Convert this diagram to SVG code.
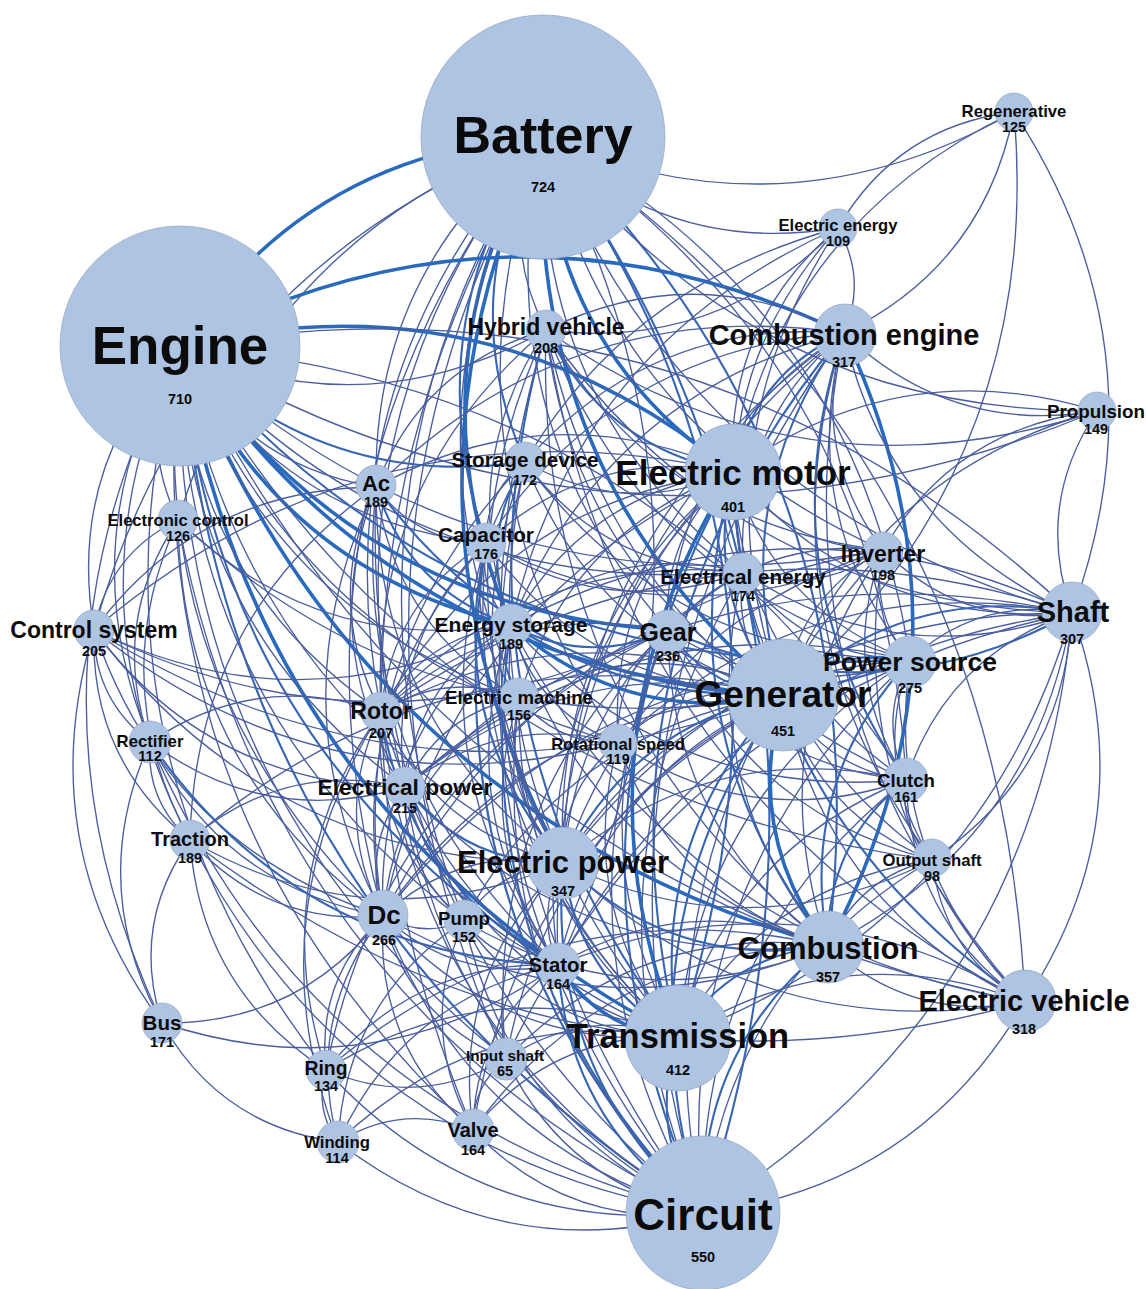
<svg xmlns="http://www.w3.org/2000/svg" xmlns:xlink="http://www.w3.org/1999/xlink" width="1146" height="1289" viewBox="0 0 1146 1289">
<style>
  .edges use { fill: none; stroke-linecap: round; }
  .t { stroke: #4a5e9e; stroke-width: 1.35; }
  .m { stroke: #3866b2; stroke-width: 2.1; }
  .k { stroke: #2a6abc; stroke-width: 3.6; }
  .node circle { fill: #aec4e3; stroke: #93a4c2; stroke-width: 0.7; }
  .node text { font-family: "Liberation Sans", Arial, sans-serif; font-weight: bold; text-anchor: middle; fill: #0b0b0b; }
  .node text.v { font-size: 14.5px; }
</style>
<defs>
  <!-- unit arc from (0,0) to (1,0); each edge maps it with matrix(dx dy -dy dx x1 y1) -->
  <path id="c" d="M0,0 Q0.5,0.25 1,0" vector-effect="non-scaling-stroke"/>
</defs>
<rect width="1146" height="1289" fill="#ffffff"/>
<g class="edges">
<!-- Battery -->
<use href="#c" class="k" transform="matrix(-363 210 -210 -363 543 137)"/>
<use href="#c" class="t" transform="matrix(471 -25 25 471 543 137)"/>
<use href="#c" class="t" transform="matrix(295 91 -91 295 543 137)"/>
<use href="#c" class="k" transform="matrix(190 335 -335 190 543 137)"/>
<use href="#c" class="k" transform="matrix(240 558 -558 240 543 137)"/>
<use href="#c" class="m" transform="matrix(-160 -1076 1076 -160 703 1213)"/>
<use href="#c" class="m" transform="matrix(-135 -900 900 -135 678 1037)"/>
<use href="#c" class="m" transform="matrix(-285 -809 809 -285 828 946)"/>
<use href="#c" class="k" transform="matrix(20 726 -726 20 543 137)"/>
<use href="#c" class="k" transform="matrix(-32 488 -488 -32 543 137)"/>
<use href="#c" class="m" transform="matrix(-57 406 -406 -57 543 137)"/>
<use href="#c" class="m" transform="matrix(-18 325 -325 -18 543 137)"/>
<use href="#c" class="t" transform="matrix(3 193 -193 3 543 137)"/>
<use href="#c" class="t" transform="matrix(200 435 -435 200 543 137)"/>
<use href="#c" class="t" transform="matrix(340 413 -413 340 543 137)"/>
<use href="#c" class="t" transform="matrix(-367 -523 523 -367 910 660)"/>
<use href="#c" class="t" transform="matrix(-167 350 -350 -167 543 137)"/>
<use href="#c" class="t" transform="matrix(-160 779 -779 -160 543 137)"/>
<use href="#c" class="t" transform="matrix(-138 650 -650 -138 543 137)"/>
<use href="#c" class="t" transform="matrix(-15 -828 828 -15 558 965)"/>
<use href="#c" class="t" transform="matrix(125 493 -493 125 543 137)"/>
<use href="#c" class="t" transform="matrix(-24 561 -561 -24 543 137)"/>
<use href="#c" class="t" transform="matrix(-162 575 -575 -162 543 137)"/>
<use href="#c" class="t" transform="matrix(529 476 -476 529 543 137)"/>
<use href="#c" class="t" transform="matrix(-482 -865 865 -482 1025 1002)"/>
<use href="#c" class="t" transform="matrix(-363 -643 643 -363 906 780)"/>
<use href="#c" class="t" transform="matrix(554 274 -274 554 543 137)"/>
<use href="#c" class="t" transform="matrix(-449 493 -493 -449 543 137)"/>
<use href="#c" class="t" transform="matrix(-365 383 -383 -365 543 137)"/>
<use href="#c" class="t" transform="matrix(75 606 -606 75 543 137)"/>
<use href="#c" class="t" transform="matrix(-79 784 -784 -79 543 137)"/>
<use href="#c" class="t" transform="matrix(-70 993 -993 -70 543 137)"/>
<use href="#c" class="t" transform="matrix(-37 922 -922 -37 543 137)"/>
<!-- Engine -->
<use href="#c" class="k" transform="matrix(-553 -125 125 -553 733 472)"/>
<use href="#c" class="k" transform="matrix(603 348 -348 603 180 347)"/>
<use href="#c" class="k" transform="matrix(331 278 -278 331 180 347)"/>
<use href="#c" class="k" transform="matrix(498 690 -690 498 180 347)"/>
<use href="#c" class="m" transform="matrix(378 618 -618 378 180 347)"/>
<use href="#c" class="m" transform="matrix(523 866 -866 523 180 347)"/>
<use href="#c" class="k" transform="matrix(648 599 -599 648 180 347)"/>
<use href="#c" class="k" transform="matrix(488 283 -283 488 180 347)"/>
<use href="#c" class="t" transform="matrix(366 -17 17 366 180 347)"/>
<use href="#c" class="m" transform="matrix(345 115 -115 345 180 347)"/>
<use href="#c" class="t" transform="matrix(196 140 -140 196 180 347)"/>
<use href="#c" class="t" transform="matrix(-2 173 -173 -2 180 347)"/>
<use href="#c" class="t" transform="matrix(-86 283 -283 -86 180 347)"/>
<use href="#c" class="t" transform="matrix(-30 395 -395 -30 180 347)"/>
<use href="#c" class="t" transform="matrix(10 493 -493 10 180 347)"/>
<use href="#c" class="t" transform="matrix(306 196 -196 306 180 347)"/>
<use href="#c" class="t" transform="matrix(563 225 -225 563 180 347)"/>
<use href="#c" class="t" transform="matrix(703 203 -203 703 180 347)"/>
<use href="#c" class="m" transform="matrix(730 313 -313 730 180 347)"/>
<use href="#c" class="t" transform="matrix(-892 -266 266 -892 1072 613)"/>
<use href="#c" class="t" transform="matrix(-726 -433 433 -726 906 780)"/>
<use href="#c" class="t" transform="matrix(201 365 -365 201 180 347)"/>
<use href="#c" class="t" transform="matrix(225 440 -440 225 180 347)"/>
<use href="#c" class="t" transform="matrix(383 516 -516 383 180 347)"/>
<use href="#c" class="t" transform="matrix(203 569 -569 203 180 347)"/>
<use href="#c" class="t" transform="matrix(284 574 -574 284 180 347)"/>
<use href="#c" class="t" transform="matrix(339 351 -351 339 180 347)"/>
<use href="#c" class="t" transform="matrix(438 396 -396 438 180 347)"/>
<use href="#c" class="t" transform="matrix(293 783 -783 293 180 347)"/>
<use href="#c" class="t" transform="matrix(146 723 -723 146 180 347)"/>
<use href="#c" class="t" transform="matrix(845 655 -655 845 180 347)"/>
<use href="#c" class="t" transform="matrix(752 513 -513 752 180 347)"/>
<use href="#c" class="t" transform="matrix(-18 676 -676 -18 180 347)"/>
<use href="#c" class="t" transform="matrix(326 712 -712 326 180 347)"/>
<use href="#c" class="t" transform="matrix(917 64 -64 917 180 347)"/>
<!-- Combustion engine -->
<use href="#c" class="k" transform="matrix(16 -613 613 16 828 946)"/>
<use href="#c" class="k" transform="matrix(-664 14 -14 -664 844 333)"/>
<use href="#c" class="m" transform="matrix(-111 139 -139 -111 844 333)"/>
<use href="#c" class="m" transform="matrix(-61 362 -362 -61 844 333)"/>
<use href="#c" class="m" transform="matrix(-166 704 -704 -166 844 333)"/>
<use href="#c" class="t" transform="matrix(253 78 -78 253 844 333)"/>
<use href="#c" class="t" transform="matrix(170 -221 221 170 844 333)"/>
<use href="#c" class="t" transform="matrix(-6 -105 105 -6 844 333)"/>
<use href="#c" class="t" transform="matrix(228 280 -280 228 844 333)"/>
<use href="#c" class="t" transform="matrix(66 327 -327 66 844 333)"/>
<use href="#c" class="m" transform="matrix(62 447 -447 62 844 333)"/>
<use href="#c" class="t" transform="matrix(-101 239 -239 -101 844 333)"/>
<use href="#c" class="t" transform="matrix(-176 297 -297 -176 844 333)"/>
<use href="#c" class="t" transform="matrix(-333 292 -292 -333 844 333)"/>
<use href="#c" class="t" transform="matrix(-141 880 -880 -141 844 333)"/>
<use href="#c" class="t" transform="matrix(181 669 -669 181 844 333)"/>
<use href="#c" class="t" transform="matrix(88 527 -527 88 844 333)"/>
<use href="#c" class="t" transform="matrix(-298 -3 3 -298 844 333)"/>
<use href="#c" class="t" transform="matrix(39 217 -217 39 844 333)"/>
<use href="#c" class="t" transform="matrix(-281 530 -530 -281 844 333)"/>
<use href="#c" class="t" transform="matrix(-286 632 -632 -286 844 333)"/>
<use href="#c" class="t" transform="matrix(-468 154 -154 -468 844 333)"/>
<use href="#c" class="t" transform="matrix(-358 210 -210 -358 844 333)"/>
<use href="#c" class="t" transform="matrix(-319 129 -129 -319 844 333)"/>
<!-- Regenerative, Electric energy -->
<use href="#c" class="t" transform="matrix(-176 116 -116 -176 1014 112)"/>
<use href="#c" class="t" transform="matrix(-58 -501 501 -58 1072 613)"/>
<use href="#c" class="t" transform="matrix(-281 360 -360 -281 1014 112)"/>
<use href="#c" class="t" transform="matrix(231 -583 583 231 783 695)"/>
<use href="#c" class="t" transform="matrix(-105 244 -244 -105 838 228)"/>
<use href="#c" class="t" transform="matrix(-95 344 -344 -95 838 228)"/>
<use href="#c" class="t" transform="matrix(-55 467 -467 -55 838 228)"/>
<use href="#c" class="t" transform="matrix(-352 315 -315 -352 838 228)"/>
<use href="#c" class="t" transform="matrix(-327 397 -397 -327 838 228)"/>
<use href="#c" class="t" transform="matrix(292 -102 102 292 546 330)"/>
<!-- Hybrid vehicle -->
<use href="#c" class="m" transform="matrix(187 142 -142 187 546 330)"/>
<use href="#c" class="t" transform="matrix(237 365 -365 237 546 330)"/>
<use href="#c" class="m" transform="matrix(132 707 -707 132 546 330)"/>
<use href="#c" class="t" transform="matrix(157 883 -883 157 546 330)"/>
<use href="#c" class="t" transform="matrix(479 672 -672 479 546 330)"/>
<use href="#c" class="t" transform="matrix(282 616 -616 282 546 330)"/>
<use href="#c" class="t" transform="matrix(-35 295 -295 -35 546 330)"/>
<use href="#c" class="t" transform="matrix(17 533 -533 17 546 330)"/>
<use href="#c" class="t" transform="matrix(-170 157 -157 -170 546 330)"/>
<use href="#c" class="t" transform="matrix(526 283 -283 526 546 330)"/>
<use href="#c" class="t" transform="matrix(364 330 -330 364 546 330)"/>
<use href="#c" class="t" transform="matrix(360 450 -450 360 546 330)"/>
<use href="#c" class="t" transform="matrix(337 220 -220 337 546 330)"/>
<use href="#c" class="t" transform="matrix(-165 382 -382 -165 546 330)"/>
<use href="#c" class="t" transform="matrix(551 81 -81 551 546 330)"/>
<!-- Propulsion -->
<use href="#c" class="t" transform="matrix(-25 202 -202 -25 1097 411)"/>
<use href="#c" class="t" transform="matrix(-364 61 -61 -364 1097 411)"/>
<use href="#c" class="t" transform="matrix(-314 284 -284 -314 1097 411)"/>
<use href="#c" class="t" transform="matrix(-214 139 -139 -214 1097 411)"/>
<!-- Storage device -->
<use href="#c" class="t" transform="matrix(208 10 -10 208 525 462)"/>
<use href="#c" class="m" transform="matrix(-14 163 -163 -14 525 462)"/>
<use href="#c" class="t" transform="matrix(-39 81 -81 -39 525 462)"/>
<use href="#c" class="t" transform="matrix(258 233 -233 258 525 462)"/>
<use href="#c" class="t" transform="matrix(178 751 -751 178 525 462)"/>
<use href="#c" class="t" transform="matrix(38 401 -401 38 525 462)"/>
<use href="#c" class="t" transform="matrix(218 110 -110 218 525 462)"/>
<use href="#c" class="t" transform="matrix(-142 454 -454 -142 525 462)"/>
<use href="#c" class="t" transform="matrix(153 575 -575 153 525 462)"/>
<use href="#c" class="t" transform="matrix(385 198 -198 385 525 462)"/>
<!-- Electric motor -->
<use href="#c" class="m" transform="matrix(50 223 -223 50 733 472)"/>
<use href="#c" class="k" transform="matrix(-55 565 -565 -55 733 472)"/>
<use href="#c" class="m" transform="matrix(95 474 -474 95 733 472)"/>
<use href="#c" class="m" transform="matrix(-30 741 -741 -30 733 472)"/>
<use href="#c" class="t" transform="matrix(339 141 -141 339 733 472)"/>
<use href="#c" class="t" transform="matrix(150 78 -78 150 733 472)"/>
<use href="#c" class="t" transform="matrix(10 100 -100 10 733 472)"/>
<use href="#c" class="t" transform="matrix(-65 158 -158 -65 733 472)"/>
<use href="#c" class="t" transform="matrix(177 188 -188 177 733 472)"/>
<use href="#c" class="t" transform="matrix(173 308 -308 173 733 472)"/>
<use href="#c" class="m" transform="matrix(292 530 -530 292 733 472)"/>
<use href="#c" class="t" transform="matrix(-170 391 -391 -170 733 472)"/>
<use href="#c" class="t" transform="matrix(-222 153 -153 -222 733 472)"/>
<use href="#c" class="t" transform="matrix(-247 71 -71 -247 733 472)"/>
<use href="#c" class="t" transform="matrix(-357 15 -15 -357 733 472)"/>
<use href="#c" class="t" transform="matrix(-352 240 -240 -352 733 472)"/>
<use href="#c" class="t" transform="matrix(-175 493 -493 -175 733 472)"/>
<use href="#c" class="t" transform="matrix(-115 271 -271 -115 733 472)"/>
<use href="#c" class="t" transform="matrix(-350 444 -444 -350 733 472)"/>
<use href="#c" class="t" transform="matrix(199 388 -388 199 733 472)"/>
<use href="#c" class="t" transform="matrix(-214 226 -226 -214 733 472)"/>
<use href="#c" class="t" transform="matrix(-639 158 -158 -639 733 472)"/>
<!-- Ac -->
<use href="#c" class="t" transform="matrix(5 225 -225 5 376 487)"/>
<use href="#c" class="t" transform="matrix(7 429 -429 7 376 487)"/>
<use href="#c" class="t" transform="matrix(29 300 -300 29 376 487)"/>
<use href="#c" class="m" transform="matrix(135 138 -138 135 376 487)"/>
<use href="#c" class="t" transform="matrix(110 56 -56 110 376 487)"/>
<use href="#c" class="m" transform="matrix(407 208 -208 407 376 487)"/>
<use href="#c" class="t" transform="matrix(182 478 -478 182 376 487)"/>
<use href="#c" class="t" transform="matrix(327 726 -726 327 376 487)"/>
<use href="#c" class="t" transform="matrix(187 376 -376 187 376 487)"/>
<use href="#c" class="t" transform="matrix(-186 353 -353 -186 376 487)"/>
<use href="#c" class="t" transform="matrix(143 211 -211 143 376 487)"/>
<use href="#c" class="t" transform="matrix(-282 143 -143 -282 376 487)"/>
<!-- Electronic control -->
<use href="#c" class="t" transform="matrix(-84 110 -110 -84 178 520)"/>
<use href="#c" class="t" transform="matrix(-28 222 -222 -28 178 520)"/>
<use href="#c" class="t" transform="matrix(12 320 -320 12 178 520)"/>
<use href="#c" class="t" transform="matrix(333 105 -105 333 178 520)"/>
<use href="#c" class="t" transform="matrix(605 175 -175 605 178 520)"/>
<use href="#c" class="t" transform="matrix(525 693 -693 525 178 520)"/>
<use href="#c" class="t" transform="matrix(205 396 -396 205 178 520)"/>
<!-- Capacitor -->
<use href="#c" class="t" transform="matrix(25 82 -82 25 486 543)"/>
<use href="#c" class="m" transform="matrix(77 320 -320 77 486 543)"/>
<use href="#c" class="m" transform="matrix(217 670 -670 217 486 543)"/>
<use href="#c" class="t" transform="matrix(297 152 -152 297 486 543)"/>
<use href="#c" class="t" transform="matrix(-103 373 -373 -103 486 543)"/>
<use href="#c" class="t" transform="matrix(257 29 -29 257 486 543)"/>
<use href="#c" class="t" transform="matrix(-81 244 -244 -81 486 543)"/>
<use href="#c" class="t" transform="matrix(192 494 -494 192 486 543)"/>
<use href="#c" class="t" transform="matrix(397 7 -7 397 486 543)"/>
<use href="#c" class="t" transform="matrix(72 422 -422 72 486 543)"/>
<use href="#c" class="t" transform="matrix(33 155 -155 33 486 543)"/>
<use href="#c" class="t" transform="matrix(-105 169 -169 -105 486 543)"/>
<!-- Electrical energy -->
<use href="#c" class="t" transform="matrix(40 123 -123 40 743 572)"/>
<use href="#c" class="t" transform="matrix(-232 53 -53 -232 743 572)"/>
<use href="#c" class="t" transform="matrix(140 -22 22 140 743 572)"/>
<use href="#c" class="t" transform="matrix(167 88 -88 167 743 572)"/>
<use href="#c" class="t" transform="matrix(-180 291 -291 -180 743 572)"/>
<use href="#c" class="t" transform="matrix(-40 641 -641 -40 743 572)"/>
<use href="#c" class="t" transform="matrix(85 374 -374 85 743 572)"/>
<use href="#c" class="t" transform="matrix(329 41 -41 329 743 572)"/>
<use href="#c" class="t" transform="matrix(-362 140 -140 -362 743 572)"/>
<!-- Inverter -->
<use href="#c" class="t" transform="matrix(-100 145 -145 -100 883 550)"/>
<use href="#c" class="t" transform="matrix(27 110 -110 27 883 550)"/>
<use href="#c" class="t" transform="matrix(189 63 -63 189 883 550)"/>
<use href="#c" class="t" transform="matrix(23 230 -230 23 883 550)"/>
<use href="#c" class="t" transform="matrix(-55 396 -396 -55 883 550)"/>
<use href="#c" class="t" transform="matrix(-320 313 -313 -320 883 550)"/>
<use href="#c" class="t" transform="matrix(-500 366 -366 -500 883 550)"/>
<use href="#c" class="t" transform="matrix(-180 663 -663 -180 883 550)"/>
<use href="#c" class="t" transform="matrix(142 452 -452 142 883 550)"/>
<use href="#c" class="t" transform="matrix(-215 80 -80 -215 883 550)"/>
<!-- Control system -->
<use href="#c" class="t" transform="matrix(56 112 -112 56 94 630)"/>
<use href="#c" class="t" transform="matrix(96 210 -210 96 94 630)"/>
<use href="#c" class="t" transform="matrix(68 393 -393 68 94 630)"/>
<use href="#c" class="t" transform="matrix(417 -5 5 417 94 630)"/>
<use href="#c" class="t" transform="matrix(689 65 -65 689 94 630)"/>
<use href="#c" class="t" transform="matrix(311 157 -157 311 94 630)"/>
<use href="#c" class="t" transform="matrix(469 233 -233 469 94 630)"/>
<use href="#c" class="t" transform="matrix(289 286 -286 289 94 630)"/>
<use href="#c" class="t" transform="matrix(574 0 0 574 94 630)"/>
<use href="#c" class="t" transform="matrix(524 113 -113 524 94 630)"/>
<!-- Energy storage -->
<use href="#c" class="k" transform="matrix(272 70 -70 272 511 625)"/>
<use href="#c" class="m" transform="matrix(157 5 -5 157 511 625)"/>
<use href="#c" class="t" transform="matrix(8 73 -73 8 511 625)"/>
<use href="#c" class="t" transform="matrix(52 238 -238 52 511 625)"/>
<use href="#c" class="m" transform="matrix(192 588 -588 192 511 625)"/>
<use href="#c" class="t" transform="matrix(167 412 -412 167 511 625)"/>
<use href="#c" class="t" transform="matrix(47 340 -340 47 511 625)"/>
<use href="#c" class="t" transform="matrix(-130 87 -87 -130 511 625)"/>
<use href="#c" class="m" transform="matrix(399 35 -35 399 511 625)"/>
<use href="#c" class="t" transform="matrix(-561 12 -12 -561 1072 613)"/>
<use href="#c" class="t" transform="matrix(317 321 -321 317 511 625)"/>
<use href="#c" class="t" transform="matrix(-128 291 -291 -128 511 625)"/>
<use href="#c" class="t" transform="matrix(-106 162 -162 -106 511 625)"/>
<use href="#c" class="t" transform="matrix(107 118 -118 107 511 625)"/>
<use href="#c" class="t" transform="matrix(395 155 -155 395 511 625)"/>
<use href="#c" class="t" transform="matrix(514 377 -377 514 511 625)"/>
<!-- Gear -->
<use href="#c" class="m" transform="matrix(115 65 -65 115 668 630)"/>
<use href="#c" class="m" transform="matrix(404 -17 17 404 668 630)"/>
<use href="#c" class="t" transform="matrix(10 407 -407 10 668 630)"/>
<use href="#c" class="t" transform="matrix(160 316 -316 160 668 630)"/>
<use href="#c" class="t" transform="matrix(238 150 -150 238 668 630)"/>
<use href="#c" class="t" transform="matrix(242 30 -30 242 668 630)"/>
<use href="#c" class="t" transform="matrix(264 230 -230 264 668 630)"/>
<use href="#c" class="t" transform="matrix(-50 113 -113 -50 668 630)"/>
<use href="#c" class="t" transform="matrix(-287 82 -82 -287 668 630)"/>
<use href="#c" class="t" transform="matrix(-162 429 -429 -162 668 630)"/>
<use href="#c" class="t" transform="matrix(-342 440 -440 -342 668 630)"/>
<use href="#c" class="t" transform="matrix(35 583 -583 35 668 630)"/>
<!-- Shaft -->
<use href="#c" class="m" transform="matrix(-289 82 -82 -289 1072 613)"/>
<use href="#c" class="t" transform="matrix(-162 47 -47 -162 1072 613)"/>
<use href="#c" class="t" transform="matrix(-166 167 -167 -166 1072 613)"/>
<use href="#c" class="t" transform="matrix(140 -247 247 140 932 860)"/>
<use href="#c" class="t" transform="matrix(244 -333 333 244 828 946)"/>
<use href="#c" class="t" transform="matrix(394 -424 424 394 678 1037)"/>
<use href="#c" class="t" transform="matrix(47 -389 389 47 1025 1002)"/>
<use href="#c" class="t" transform="matrix(369 -600 600 369 703 1213)"/>
<use href="#c" class="t" transform="matrix(-509 250 -250 -509 1072 613)"/>
<use href="#c" class="t" transform="matrix(-454 130 -130 -454 1072 613)"/>
<use href="#c" class="t" transform="matrix(-514 352 -352 -514 1072 613)"/>
<use href="#c" class="t" transform="matrix(-566 446 -446 -566 1072 613)"/>
<use href="#c" class="t" transform="matrix(-691 99 -99 -691 1072 613)"/>
<use href="#c" class="t" transform="matrix(-667 174 -174 -667 1072 613)"/>
<!-- Power source -->
<use href="#c" class="m" transform="matrix(-127 35 -35 -127 910 660)"/>
<use href="#c" class="t" transform="matrix(-4 120 -120 -4 910 660)"/>
<use href="#c" class="m" transform="matrix(-82 286 -286 -82 910 660)"/>
<use href="#c" class="t" transform="matrix(-232 377 -377 -232 910 660)"/>
<use href="#c" class="t" transform="matrix(115 342 -342 115 910 660)"/>
<use href="#c" class="t" transform="matrix(-207 553 -553 -207 910 660)"/>
<use href="#c" class="t" transform="matrix(-347 203 -203 -347 910 660)"/>
<use href="#c" class="t" transform="matrix(22 200 -200 22 910 660)"/>
<use href="#c" class="t" transform="matrix(-505 127 -127 -505 910 660)"/>
<use href="#c" class="t" transform="matrix(-527 256 -256 -527 910 660)"/>
<!-- Generator -->
<use href="#c" class="m" transform="matrix(-105 342 -342 -105 783 695)"/>
<use href="#c" class="k" transform="matrix(45 251 -251 45 783 695)"/>
<use href="#c" class="m" transform="matrix(-80 518 -518 -80 783 695)"/>
<use href="#c" class="m" transform="matrix(-220 168 -168 -220 783 695)"/>
<use href="#c" class="t" transform="matrix(123 85 -85 123 783 695)"/>
<use href="#c" class="t" transform="matrix(242 307 -307 242 783 695)"/>
<use href="#c" class="t" transform="matrix(149 165 -165 149 783 695)"/>
<use href="#c" class="t" transform="matrix(-225 270 -270 -225 783 695)"/>
<use href="#c" class="t" transform="matrix(-400 221 -221 -400 783 695)"/>
<use href="#c" class="t" transform="matrix(-402 17 -17 -402 783 695)"/>
<use href="#c" class="t" transform="matrix(-264 3 -3 -264 783 695)"/>
<use href="#c" class="t" transform="matrix(-165 48 -48 -165 783 695)"/>
<use href="#c" class="t" transform="matrix(-378 92 -92 -378 783 695)"/>
<use href="#c" class="t" transform="matrix(-319 226 -226 -319 783 695)"/>
<use href="#c" class="t" transform="matrix(-277 364 -364 -277 783 695)"/>
<use href="#c" class="t" transform="matrix(-310 435 -435 -310 783 695)"/>
<use href="#c" class="t" transform="matrix(-593 145 -145 -593 783 695)"/>
<!-- Electric machine -->
<use href="#c" class="t" transform="matrix(-138 14 -14 -138 519 698)"/>
<use href="#c" class="t" transform="matrix(39 267 -267 39 519 698)"/>
<use href="#c" class="t" transform="matrix(44 165 -165 44 519 698)"/>
<use href="#c" class="t" transform="matrix(99 45 -45 99 519 698)"/>
<use href="#c" class="t" transform="matrix(159 339 -339 159 519 698)"/>
<use href="#c" class="t" transform="matrix(184 515 -515 184 519 698)"/>
<use href="#c" class="t" transform="matrix(-136 218 -218 -136 519 698)"/>
<use href="#c" class="t" transform="matrix(-114 89 -89 -114 519 698)"/>
<!-- Rotor -->
<use href="#c" class="m" transform="matrix(177 253 -253 177 381 712)"/>
<use href="#c" class="t" transform="matrix(24 75 -75 24 381 712)"/>
<use href="#c" class="t" transform="matrix(2 204 -204 2 381 712)"/>
<use href="#c" class="t" transform="matrix(182 151 -151 182 381 712)"/>
<use href="#c" class="t" transform="matrix(297 325 -325 297 381 712)"/>
<use href="#c" class="t" transform="matrix(322 501 -501 322 381 712)"/>
<use href="#c" class="t" transform="matrix(-55 358 -358 -55 381 712)"/>
<use href="#c" class="t" transform="matrix(-43 430 -430 -43 381 712)"/>
<use href="#c" class="t" transform="matrix(83 209 -209 83 381 712)"/>
<use href="#c" class="t" transform="matrix(-231 30 -30 -231 381 712)"/>
<!-- Rectifier -->
<use href="#c" class="t" transform="matrix(40 98 -98 40 150 742)"/>
<use href="#c" class="t" transform="matrix(233 174 -174 233 150 742)"/>
<use href="#c" class="t" transform="matrix(255 45 -45 255 150 742)"/>
<use href="#c" class="t" transform="matrix(12 281 -281 12 150 742)"/>
<use href="#c" class="t" transform="matrix(553 471 -471 553 150 742)"/>
<use href="#c" class="m" transform="matrix(408 223 -223 408 150 742)"/>
<!-- Rotational speed -->
<use href="#c" class="t" transform="matrix(60 294 -294 60 618 743)"/>
<use href="#c" class="t" transform="matrix(210 203 -203 210 618 743)"/>
<use href="#c" class="t" transform="matrix(-55 120 -120 -55 618 743)"/>
<use href="#c" class="t" transform="matrix(288 37 -37 288 618 743)"/>
<use href="#c" class="t" transform="matrix(-213 44 -44 -213 618 743)"/>
<!-- Electrical power -->
<use href="#c" class="m" transform="matrix(158 76 -76 158 405 787)"/>
<use href="#c" class="t" transform="matrix(-22 129 -129 -22 405 787)"/>
<use href="#c" class="t" transform="matrix(153 178 -178 153 405 787)"/>
<use href="#c" class="t" transform="matrix(298 426 -426 298 405 787)"/>
<use href="#c" class="t" transform="matrix(273 250 -250 273 405 787)"/>
<use href="#c" class="t" transform="matrix(-215 53 -53 -215 405 787)"/>
<use href="#c" class="t" transform="matrix(59 134 -134 59 405 787)"/>
<use href="#c" class="t" transform="matrix(423 159 -159 423 405 787)"/>
<!-- Clutch -->
<use href="#c" class="m" transform="matrix(-78 166 -166 -78 906 780)"/>
<use href="#c" class="t" transform="matrix(-228 257 -257 -228 906 780)"/>
<use href="#c" class="t" transform="matrix(26 80 -80 26 906 780)"/>
<use href="#c" class="t" transform="matrix(119 222 -222 119 906 780)"/>
<use href="#c" class="t" transform="matrix(-203 433 -433 -203 906 780)"/>
<use href="#c" class="t" transform="matrix(-343 83 -83 -343 906 780)"/>
<!-- Traction -->
<use href="#c" class="t" transform="matrix(-28 183 -183 -28 190 840)"/>
<use href="#c" class="t" transform="matrix(193 76 -76 193 190 840)"/>
<use href="#c" class="t" transform="matrix(373 23 -23 373 190 840)"/>
<use href="#c" class="t" transform="matrix(513 373 -373 513 190 840)"/>
<use href="#c" class="t" transform="matrix(136 230 -230 136 190 840)"/>
<use href="#c" class="t" transform="matrix(835 162 -162 835 190 840)"/>
<!-- Electric power -->
<use href="#c" class="m" transform="matrix(115 174 -174 115 563 863)"/>
<use href="#c" class="m" transform="matrix(140 350 -350 140 563 863)"/>
<use href="#c" class="m" transform="matrix(265 83 -83 265 563 863)"/>
<use href="#c" class="t" transform="matrix(-5 102 -102 -5 563 863)"/>
<use href="#c" class="t" transform="matrix(-180 53 -53 -180 563 863)"/>
<use href="#c" class="t" transform="matrix(-99 58 -58 -99 563 863)"/>
<use href="#c" class="t" transform="matrix(462 139 -139 462 563 863)"/>
<use href="#c" class="t" transform="matrix(369 -3 3 369 563 863)"/>
<use href="#c" class="t" transform="matrix(-57 196 -196 -57 563 863)"/>
<use href="#c" class="t" transform="matrix(-90 267 -267 -90 563 863)"/>
<!-- Output shaft -->
<use href="#c" class="t" transform="matrix(-104 86 -86 -104 932 860)"/>
<use href="#c" class="t" transform="matrix(93 142 -142 93 932 860)"/>
<use href="#c" class="t" transform="matrix(-254 177 -177 -254 932 860)"/>
<use href="#c" class="t" transform="matrix(-229 353 -353 -229 932 860)"/>
<!-- Dc -->
<use href="#c" class="t" transform="matrix(81 5 -5 81 383 916)"/>
<use href="#c" class="t" transform="matrix(175 49 -49 175 383 916)"/>
<use href="#c" class="t" transform="matrix(320 297 -297 320 383 916)"/>
<use href="#c" class="t" transform="matrix(295 121 -121 295 383 916)"/>
<use href="#c" class="t" transform="matrix(221 -107 107 221 162 1023)"/>
<use href="#c" class="t" transform="matrix(-57 154 -154 -57 383 916)"/>
<use href="#c" class="t" transform="matrix(-45 226 -226 -45 383 916)"/>
<use href="#c" class="t" transform="matrix(90 214 -214 90 383 916)"/>
<use href="#c" class="t" transform="matrix(123 143 -143 123 383 916)"/>
<use href="#c" class="t" transform="matrix(445 30 -30 445 383 916)"/>
<!-- Pump -->
<use href="#c" class="t" transform="matrix(9 209 -209 9 464 921)"/>
<use href="#c" class="t" transform="matrix(214 116 -116 214 464 921)"/>
<use href="#c" class="t" transform="matrix(239 292 -292 239 464 921)"/>
<use href="#c" class="t" transform="matrix(364 25 -25 364 464 921)"/>
<use href="#c" class="t" transform="matrix(94 44 -44 94 464 921)"/>
<use href="#c" class="t" transform="matrix(-126 221 -221 -126 464 921)"/>
<!-- Combustion -->
<use href="#c" class="m" transform="matrix(-150 91 -91 -150 828 946)"/>
<use href="#c" class="m" transform="matrix(-125 267 -267 -125 828 946)"/>
<use href="#c" class="t" transform="matrix(197 56 -56 197 828 946)"/>
<use href="#c" class="t" transform="matrix(-270 19 -19 -270 828 946)"/>
<use href="#c" class="t" transform="matrix(-322 113 -113 -322 828 946)"/>
<use href="#c" class="t" transform="matrix(-355 184 -184 -355 828 946)"/>
<use href="#c" class="t" transform="matrix(-502 124 -124 -502 828 946)"/>
<!-- Stator -->
<use href="#c" class="k" transform="matrix(120 72 -72 120 558 965)"/>
<use href="#c" class="m" transform="matrix(145 248 -248 145 558 965)"/>
<use href="#c" class="t" transform="matrix(396 -58 58 396 162 1023)"/>
<use href="#c" class="t" transform="matrix(-232 105 -105 -232 558 965)"/>
<use href="#c" class="t" transform="matrix(-220 177 -177 -220 558 965)"/>
<use href="#c" class="t" transform="matrix(-85 165 -165 -85 558 965)"/>
<!-- Electric vehicle, Bus, Transmission and the lower ring -->
<use href="#c" class="t" transform="matrix(322 -211 211 322 703 1213)"/>
<use href="#c" class="t" transform="matrix(-347 35 -35 -347 1025 1002)"/>
<use href="#c" class="t" transform="matrix(-467 -37 37 -467 1025 1002)"/>
<use href="#c" class="t" transform="matrix(176 119 -119 176 162 1023)"/>
<use href="#c" class="m" transform="matrix(25 176 -176 25 678 1037)"/>
<use href="#c" class="t" transform="matrix(-172 22 -22 -172 678 1037)"/>
<use href="#c" class="t" transform="matrix(-352 33 -33 -352 678 1037)"/>
<use href="#c" class="t" transform="matrix(-205 93 -93 -205 678 1037)"/>
<use href="#c" class="t" transform="matrix(-340 105 -105 -340 678 1037)"/>
<use href="#c" class="t" transform="matrix(12 72 -72 12 326 1070)"/>
<use href="#c" class="t" transform="matrix(180 -11 11 180 326 1070)"/>
<use href="#c" class="t" transform="matrix(377 143 -143 377 326 1070)"/>
<use href="#c" class="t" transform="matrix(-33 71 -71 -33 506 1059)"/>
<use href="#c" class="t" transform="matrix(197 154 -154 197 506 1059)"/>
<use href="#c" class="t" transform="matrix(-135 12 -12 -135 473 1130)"/>
<use href="#c" class="t" transform="matrix(365 71 -71 365 338 1142)"/>
<use href="#c" class="t" transform="matrix(230 83 -83 230 473 1130)"/>
</g>
<g class="nodes">
<g id="battery" class="node"><circle cx="543" cy="137" r="122"/><text x="543" y="153" font-size="52">Battery</text><text class="v" x="543" y="192">724</text></g>
<g id="engine" class="node"><circle cx="180" cy="346" r="120"/><text x="180" y="364" font-size="53">Engine</text><text class="v" x="180" y="404">710</text></g>
<g id="circuit" class="node"><circle cx="703" cy="1213" r="77"/><text x="703" y="1230" font-size="44">Circuit</text><text class="v" x="703" y="1262">550</text></g>
<g id="generator" class="node"><circle cx="783" cy="695" r="56"/><text x="783" y="707" font-size="37">Generator</text><text class="v" x="783" y="736">451</text></g>
<g id="transmission" class="node"><circle cx="678" cy="1038" r="53"/><text x="678" y="1048" font-size="34.5">Transmission</text><text class="v" x="678" y="1075">412</text></g>
<g id="electric-motor" class="node"><circle cx="733" cy="472" r="48"/><text x="733" y="485" font-size="35">Electric motor</text><text class="v" x="733" y="512">401</text></g>
<g id="combustion" class="node"><circle cx="828" cy="947" r="36"/><text x="828" y="959" font-size="31">Combustion</text><text class="v" x="828" y="982">357</text></g>
<g id="electric-power" class="node"><circle cx="563" cy="863" r="36"/><text x="563" y="873" font-size="31">Electric power</text><text class="v" x="563" y="896">347</text></g>
<g id="combustion-engine" class="node"><circle cx="845" cy="335" r="31"/><text x="844" y="345" font-size="29">Combustion engine</text><text class="v" x="844" y="367">317</text></g>
<g id="electric-vehicle" class="node"><circle cx="1025" cy="1001" r="31"/><text x="1024" y="1011" font-size="29">Electric vehicle</text><text class="v" x="1024" y="1034">318</text></g>
<g id="shaft" class="node"><circle cx="1072" cy="612" r="30"/><text x="1073" y="622" font-size="29">Shaft</text><text class="v" x="1072" y="644">307</text></g>
<g id="power-source" class="node"><circle cx="910" cy="662" r="26"/><text x="910" y="671" font-size="26.5">Power source</text><text class="v" x="910" y="693">275</text></g>
<g id="dc" class="node"><circle cx="383" cy="915" r="25"/><text x="384" y="924" font-size="26">Dc</text><text class="v" x="384" y="945">266</text></g>
<g id="gear" class="node"><circle cx="668" cy="632" r="22"/><text x="668" y="641" font-size="25">Gear</text><text class="v" x="668" y="661">236</text></g>
<g id="control-system" class="node"><circle cx="94" cy="630" r="20"/><text x="94" y="638" font-size="23">Control system</text><text class="v" x="94" y="656">205</text></g>
<g id="hybrid-vehicle" class="node"><circle cx="546" cy="330" r="20"/><text x="546" y="335" font-size="23">Hybrid vehicle</text><text class="v" x="546" y="353">208</text></g>
<g id="electrical-power" class="node"><circle cx="405" cy="787" r="20"/><text x="405" y="795" font-size="22.8">Electrical power</text><text class="v" x="405" y="813">215</text></g>
<g id="inverter" class="node"><circle cx="883" cy="552" r="20"/><text x="883" y="562" font-size="23">Inverter</text><text class="v" x="883" y="580">198</text></g>
<g id="rotor" class="node"><circle cx="381" cy="712" r="20"/><text x="381" y="719" font-size="23">Rotor</text><text class="v" x="381" y="738">207</text></g>
<g id="ac" class="node"><circle cx="376" cy="485" r="20"/><text x="376" y="491" font-size="22">Ac</text><text class="v" x="376" y="507">189</text></g>
<g id="energy-storage" class="node"><circle cx="511" cy="625" r="21"/><text x="511" y="632" font-size="21">Energy storage</text><text class="v" x="511" y="649">189</text></g>
<g id="storage-device" class="node"><circle cx="525" cy="462" r="20"/><text x="525" y="467" font-size="20.7">Storage device</text><text class="v" x="525" y="485">172</text></g>
<g id="electrical-energy" class="node"><circle cx="743" cy="573" r="20"/><text x="743" y="584" font-size="20.7">Electrical energy</text><text class="v" x="743" y="601">174</text></g>
<g id="capacitor" class="node"><circle cx="486" cy="543" r="20"/><text x="486" y="542" font-size="20.8">Capacitor</text><text class="v" x="486" y="559">176</text></g>
<g id="traction" class="node"><circle cx="190" cy="840" r="20"/><text x="190" y="846" font-size="20">Traction</text><text class="v" x="190" y="863">189</text></g>
<g id="stator" class="node"><circle cx="558" cy="965" r="22"/><text x="558" y="972" font-size="20.4">Stator</text><text class="v" x="558" y="989">164</text></g>
<g id="bus" class="node"><circle cx="162" cy="1023" r="20"/><text x="162" y="1030" font-size="20.6">Bus</text><text class="v" x="162" y="1047">171</text></g>
<g id="ring" class="node"><circle cx="326" cy="1070" r="20"/><text x="326" y="1075" font-size="19.4">Ring</text><text class="v" x="326" y="1091">134</text></g>
<g id="valve" class="node"><circle cx="473" cy="1130" r="21"/><text x="473" y="1137" font-size="20">Valve</text><text class="v" x="473" y="1155">164</text></g>
<g id="pump" class="node"><circle cx="464" cy="920" r="20"/><text x="464" y="925" font-size="18.7">Pump</text><text class="v" x="464" y="942">152</text></g>
<g id="clutch" class="node"><circle cx="906" cy="780" r="22"/><text x="906" y="787" font-size="18.6">Clutch</text><text class="v" x="906" y="802">161</text></g>
<g id="propulsion" class="node"><circle cx="1097" cy="411" r="19"/><text x="1096" y="418" font-size="18.8">Propulsion</text><text class="v" x="1096" y="434">149</text></g>
<g id="electric-machine" class="node"><circle cx="519" cy="698" r="20"/><text x="519" y="704" font-size="18.6">Electric machine</text><text class="v" x="519" y="720">156</text></g>
<g id="rotational-speed" class="node"><circle cx="618" cy="743" r="19"/><text x="618" y="750" font-size="16.6">Rotational speed</text><text class="v" x="618" y="764">119</text></g>
<g id="rectifier" class="node"><circle cx="150" cy="742" r="21"/><text x="150" y="747" font-size="16.7">Rectifier</text><text class="v" x="150" y="761">112</text></g>
<g id="winding" class="node"><circle cx="338" cy="1142" r="21"/><text x="337" y="1148" font-size="16.7">Winding</text><text class="v" x="337" y="1163">114</text></g>
<g id="regenerative" class="node"><circle cx="1014" cy="112" r="19"/><text x="1014" y="117" font-size="16.7">Regenerative</text><text class="v" x="1014" y="132">125</text></g>
<g id="electric-energy" class="node"><circle cx="838" cy="228" r="19"/><text x="838" y="231" font-size="16.6">Electric energy</text><text class="v" x="838" y="246">109</text></g>
<g id="electronic-control" class="node"><circle cx="178" cy="520" r="20"/><text x="178" y="526" font-size="16.6">Electronic control</text><text class="v" x="178" y="541">126</text></g>
<g id="output-shaft" class="node"><circle cx="932" cy="858" r="19"/><text x="932" y="866" font-size="16.7">Output shaft</text><text class="v" x="932" y="881">98</text></g>
<g id="input-shaft" class="node"><circle cx="506" cy="1059" r="21"/><text x="505" y="1061" font-size="15.3">Input shaft</text><text class="v" x="505" y="1076">65</text></g>
</g>
</svg>
